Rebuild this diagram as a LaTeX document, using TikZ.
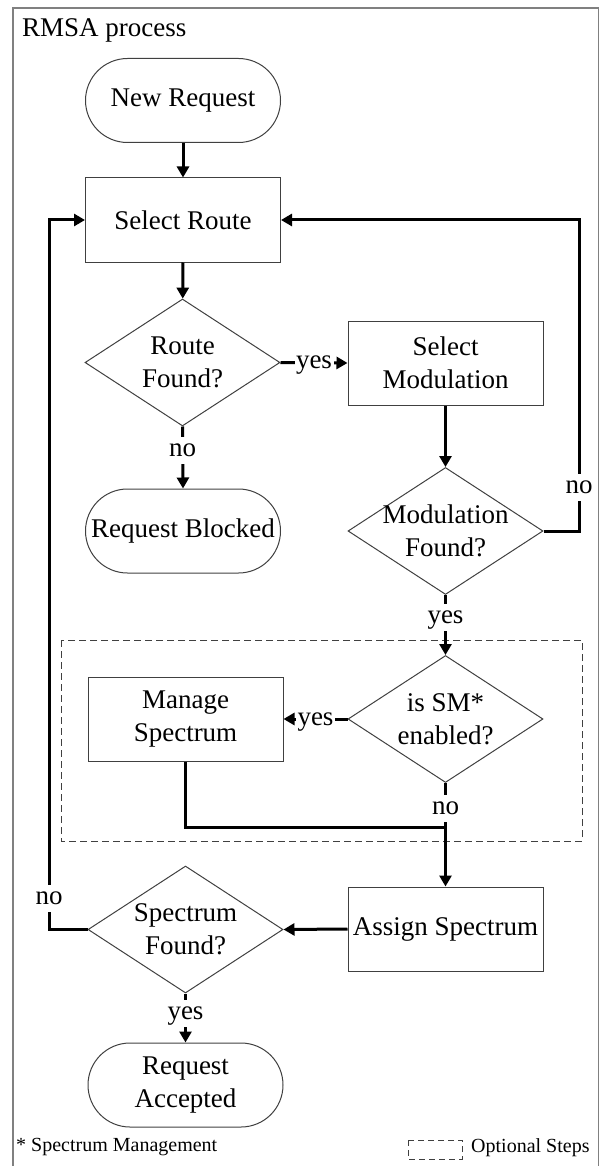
\documentclass[tikz,border=0pt]{standalone}
\usepackage{fontspec}
\setmainfont{Liberation Serif}
\usetikzlibrary{shapes.geometric,arrows.meta,calc}
\tikzset{
  base/.style={draw=black!75, line width=1pt, align=center, inner sep=2pt, minimum width=195pt},
  proc/.style={base, rectangle, minimum height=84pt},
  term/.style={base, rectangle, rounded corners=42pt, minimum height=84pt},
  dec/.style={base, diamond, minimum height=127pt, inner sep=0pt},
  conn/.style={line width=3pt, -{Triangle[length=11pt,width=12pt]}},
  plain/.style={line width=3pt},
  lbl/.style={fill=white, inner sep=1.5pt, text height=18pt, text depth=6pt},
  small/.style={font=\fontsize{20}{23}\selectfont},
}
\begin{document}
\begin{tikzpicture}[x=1pt, y=-1pt, font=\fontsize{27}{33}\selectfont]
\useasboundingbox (0,0) rectangle (600,1166);
% outer frame
\draw[black!50, line width=1.5pt] (13,1166) -- (13,8) -- (598.5,8) -- (598.5,1166);
\node[anchor=west, inner sep=0pt] (title) at (22,30) {RMSA process};

% optional-steps region
\draw[black!75, line width=1pt, dash pattern=on 7pt off 4pt] (61,640) rectangle (582,841);

% nodes
\node[term] (NR) at (183,100.5) {New Request};
\node[proc] (SR) at (183,220) {Select Route};
\node[dec, label={[align=center]center:Route\\Found?}] (RF) at (182.5,362.5) {};
\node[term] (RB) at (183,531) {Request Blocked};
\node[proc] (SMod) at (445.5,363) {Select\\Modulation};
\node[dec, label={[align=center]center:Modulation\\Found?}] (MF) at (445.5,531) {};
\node[dec, label={[align=center]center:is SM*\\enabled?}] (ISM) at (445.5,719) {};
\node[proc] (MS) at (185.5,719) {Manage\\Spectrum};
\node[proc] (AS) at (445.5,929) {Assign Spectrum};
\node[dec, label={[align=center]center:Spectrum\\Found?}] (SF) at (185.5,929.5) {};
\node[term] (RA) at (185.5,1085) {Request\\Accepted};

% helper coordinates
\coordinate (cR) at (579,220);
\coordinate (cL) at (49,220);
\coordinate (j) at (445.5,827);

% connectors
\draw[conn] (NR) -- (SR);
\draw[conn] (SR) -- (RF);
\draw[conn] (RF.east) -- node[lbl]{yes} (SMod.west);
\draw[conn] (RF.south) -- node[lbl, pos=0.38]{no} (RB.north);
\draw[conn] (SMod) -- (MF);
\draw[conn] (MF.east) -- (MF.east -| cR) -- node[lbl, pos=0.14]{no} (cR) -- (SR.east);
\draw[conn] (MF.south) -- node[lbl, pos=0.37]{yes} (ISM.north);
\draw[conn] (ISM.west) -- node[lbl]{yes} (MS.east);
\draw[conn] (ISM.south) -- node[lbl, pos=0.25]{no} (AS.north);
\draw[plain] (MS.south) |- (j);
\draw[conn] (AS.west) -- (SF.east);
\draw[conn] (SF.west) -- (SF.west -| cL) -- node[lbl, pos=0.044]{no} (cL) -- (SR.west);
\draw[conn] (SF.south) -- node[lbl, pos=0.4]{yes} (RA.north);

% footnotes / legend
\node[small, anchor=west, inner sep=0pt] (fn) at (16,1147) {* Spectrum Management};
\draw[black!75, line width=1pt, dash pattern=on 6pt off 4pt] (408,1140) rectangle (462,1159);
\node[small, anchor=west, inner sep=0pt] (leg) at (471,1148) {Optional Steps};
\end{tikzpicture}
\end{document}
